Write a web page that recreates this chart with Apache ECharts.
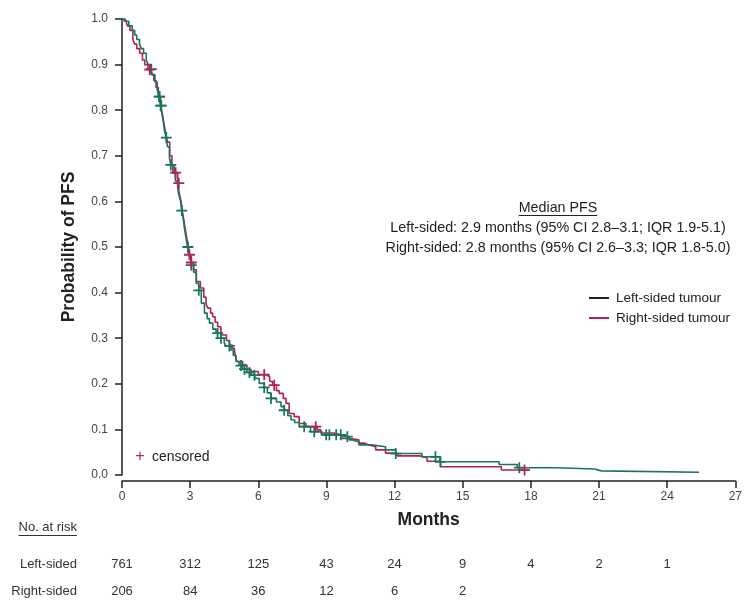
<!DOCTYPE html>
<html>
<head>
<meta charset="utf-8">
<script src="https://cdn.jsdelivr.net/npm/echarts@6/dist/echarts.min.js"></script>
<style>
html,body{margin:0;padding:0;background:#fff;}
#chart{width:745px;height:600px;}
</style>
</head>
<body>
<div id="chart"></div>
<script>
// ---- Data ----
const xTicks = [0, 3, 6, 9, 12, 15, 18, 21, 24, 27];
const yTicks = [0, 0.1, 0.2, 0.3, 0.4, 0.5, 0.6, 0.7, 0.8, 0.9, 1.0];

// Kaplan-Meier step points [month, survival]: Left-sided tumour
const leftCurve = [
  [0,1.0],[0.15,0.995],[0.3,0.985],[0.45,0.975],[0.56,0.965],[0.65,0.955],[0.77,0.945],
  [0.85,0.935],[0.95,0.925],[1.07,0.91],[1.15,0.9],[1.25,0.89],[1.33,0.878],[1.45,0.862],
  [1.55,0.845],[1.62,0.83],[1.7,0.81],[1.75,0.795],[1.82,0.775],[1.87,0.755],[1.95,0.74],
  [2.0,0.72],[2.09,0.695],[2.15,0.68],[2.24,0.662],[2.35,0.645],[2.45,0.63],[2.5,0.615],
  [2.58,0.6],[2.63,0.58],[2.7,0.56],[2.75,0.54],[2.82,0.52],[2.88,0.5],[2.95,0.48],
  [3.05,0.46],[3.15,0.445],[3.27,0.42],[3.38,0.405],[3.49,0.377],[3.63,0.355],[3.75,0.343],
  [3.85,0.333],[4.0,0.32],[4.14,0.311],[4.36,0.3],[4.5,0.29],[4.58,0.283],[4.8,0.274],
  [4.9,0.262],[5.02,0.249],[5.15,0.24],[5.31,0.232],[5.5,0.225],[5.68,0.219],[5.85,0.212],
  [6.04,0.201],[6.26,0.192],[6.4,0.18],[6.56,0.168],[6.8,0.16],[7.0,0.15],[7.14,0.142],
  [7.3,0.13],[7.44,0.121],[7.6,0.115],[7.8,0.106],[8.3,0.095],[8.8,0.088],[9.7,0.084],
  [10.0,0.077],[10.15,0.073],[10.43,0.066],[11.0,0.062],[11.6,0.055],[12.05,0.047],
  [13.2,0.04],[14.0,0.029],[16.6,0.023],[17.4,0.016],[19.1,0.013],[20.8,0.009],
  [21.1,0.006],[25.4,0.006]
];

// Kaplan-Meier step points [month, survival]: Right-sided tumour
const rightCurve = [
  [0,1.0],[0.1,0.995],[0.2,0.99],[0.26,0.984],[0.35,0.975],[0.48,0.955],[0.55,0.945],
  [0.65,0.935],[0.78,0.925],[0.9,0.91],[1.0,0.9],[1.14,0.889],[1.3,0.878],[1.4,0.865],
  [1.5,0.85],[1.6,0.83],[1.7,0.81],[1.78,0.79],[1.85,0.77],[1.92,0.75],[2.0,0.73],
  [2.1,0.7],[2.2,0.68],[2.3,0.663],[2.45,0.64],[2.52,0.618],[2.6,0.6],[2.65,0.58],
  [2.72,0.56],[2.78,0.54],[2.85,0.52],[2.92,0.5],[2.97,0.483],[3.05,0.466],[3.15,0.45],
  [3.27,0.424],[3.45,0.41],[3.6,0.39],[3.7,0.375],[3.78,0.366],[3.9,0.355],[3.99,0.347],
  [4.1,0.335],[4.21,0.325],[4.35,0.315],[4.43,0.307],[4.6,0.295],[4.73,0.285],[4.85,0.278],
  [4.95,0.271],[5.0,0.26],[5.05,0.249],[5.31,0.241],[5.5,0.232],[5.68,0.227],[6.0,0.22],
  [6.34,0.216],[6.5,0.205],[6.63,0.197],[6.8,0.185],[6.92,0.179],[7.1,0.168],[7.22,0.157],
  [7.36,0.135],[7.58,0.128],[7.8,0.113],[8.1,0.106],[8.6,0.099],[8.75,0.092],[9.34,0.088],
  [9.63,0.08],[10.07,0.077],[10.43,0.07],[10.65,0.066],[10.87,0.062],[11.17,0.055],
  [11.6,0.048],[12.1,0.042],[13.1,0.038],[13.43,0.03],[14.02,0.018],[16.7,0.011],[17.9,0.011]
];

// Censoring times (months)
const leftCensored = [1.29,1.63,1.66,1.7,1.73,1.95,2.15,2.63,2.9,3.05,3.38,4.21,4.36,4.73,
  5.24,5.39,5.61,5.83,6.26,6.56,7.14,8.02,8.46,8.99,9.13,9.43,9.63,9.92,12.05,13.8,14.02,17.49];
const rightCensored = [1.22,2.36,2.5,2.97,3.05,6.26,6.7,8.53,17.72];

// Numbers at risk at 0,3,6,... months
const riskTimes = [0, 3, 6, 9, 12, 15, 18, 21, 24];
const riskLeft = [761, 312, 125, 43, 24, 9, 4, 2, 1];
const riskRight = [206, 84, 36, 12, 6, 2];

const seriesNames = ['Left-sided tumour', 'Right-sided tumour'];
const medianTitle = 'Median PFS';
const medianLines = [
  'Left-sided: 2.9 months (95% CI 2.8\u20133.1; IQR 1.9-5.1)',
  'Right-sided: 2.8 months (95% CI 2.6\u20133.3; IQR 1.8-5.0)'
];

// ---- Styling ----
const GREEN = '#18765c';
const RED = '#b3234e';
const AXIS = '#222';
const FONT = '"Liberation Sans", Arial, sans-serif';

function survAt(curve, t) {
  let s = curve[0][1];
  for (const p of curve) { if (p[0] <= t) s = p[1]; else break; }
  return s;
}
const PLUS = 'path://M42,0H58V42H100V58H58V100H42V58H0V42H42Z';

const chart = echarts.init(document.getElementById('chart'), null, {renderer: 'canvas'});

const option = {
  backgroundColor: '#fff',
  animation: false,
  grid: {left: 122, right: 8, top: 19, bottom: 125, containLabel: false},
  legend: {
    orient: 'vertical', left: 584, top: 286, itemWidth: 20, itemHeight: 2, itemGap: 6,
    icon: 'rect', selectedMode: false,
    textStyle: {fontFamily: FONT, fontSize: 13.5, color: '#222', padding: [0,0,0,2]},
    data: [
      {name: seriesNames[0], itemStyle: {color: '#222'}},
      {name: seriesNames[1], itemStyle: {color: RED}}
    ]
  },
  xAxis: {
    type: 'value', min: 0, max: 27, interval: 3, offset: 6,
    name: 'Months', nameLocation: 'middle', nameGap: 30,
    nameTextStyle: {fontFamily: FONT, fontSize: 17.5, fontWeight: 'bold', color: '#222'},
    axisLine: {show: true, onZero: false, lineStyle: {color: AXIS, width: 1.5}},
    axisTick: {show: true, length: 7, lineStyle: {color: AXIS, width: 1.5}},
    axisLabel: {margin: 10, fontFamily: FONT, fontSize: 12, color: '#444'},
    splitLine: {show: false}
  },
  yAxis: {
    type: 'value', min: 0, max: 1, interval: 0.1, offset: 2,
    name: 'Probability of PFS', nameLocation: 'middle', nameGap: 42, nameRotate: 90,
    nameTextStyle: {fontFamily: FONT, fontSize: 17.5, fontWeight: 'bold', color: '#222'},
    axisLine: {show: true, lineStyle: {color: AXIS, width: 1.5}},
    axisTick: {show: true, length: 7, lineStyle: {color: AXIS, width: 1.5}},
    axisLabel: {margin: 12, fontFamily: FONT, fontSize: 12, color: '#444',
      formatter: v => v.toFixed(1)},
    splitLine: {show: false}
  },
  series: [
    {
      name: seriesNames[0], type: 'line', step: 'end', data: leftCurve,
      symbol: 'none', showSymbol: false, color: GREEN,
      lineStyle: {color: GREEN, width: 1.6}, z: 3
    },
    {
      name: seriesNames[1], type: 'line', step: 'end', data: rightCurve,
      symbol: 'none', showSymbol: false, color: RED,
      lineStyle: {color: RED, width: 1.6}, z: 2
    },
    {
      name: 'left-censored', type: 'scatter', symbol: PLUS, symbolSize: 11,
      itemStyle: {color: GREEN, opacity: 1}, z: 4,
      data: leftCensored.map(t => [t, survAt(leftCurve, t)])
    },
    {
      name: 'right-censored', type: 'scatter', symbol: PLUS, symbolSize: 11,
      itemStyle: {color: RED, opacity: 1}, z: 4,
      data: rightCensored.map(t => [t, survAt(rightCurve, t)])
    }
  ]
};
chart.setOption(option);

// ---- Annotations, censored key, numbers at risk ----
const ctx = document.createElement('canvas').getContext('2d');
function textWidth(str, size, weight) {
  ctx.font = (weight || 'normal') + ' ' + size + 'px ' + FONT;
  return ctx.measureText(str).width;
}

const g = [];
const cx = 558;
const ANN = 14.3;
g.push({type: 'text', x: cx, y: 208, style: {text: medianTitle, font: ANN + 'px ' + FONT, fill: '#222', align: 'center', verticalAlign: 'middle'}});
const tw = textWidth(medianTitle, ANN);
g.push({type: 'line', shape: {x1: cx - tw/2, y1: 215.5, x2: cx + tw/2, y2: 215.5}, style: {stroke: '#222', lineWidth: 1}});
medianLines.forEach((s, i) => {
  g.push({type: 'text', x: cx, y: 228 + i * 20, style: {text: s, font: ANN + 'px ' + FONT, fill: '#222', align: 'center', verticalAlign: 'middle'}});
});

// censored key
g.push({type: 'text', x: 140, y: 457, style: {text: '+', font: '16px ' + FONT, fill: RED, align: 'center', verticalAlign: 'middle'}});
g.push({type: 'text', x: 152, y: 457, style: {text: 'censored', font: '14px ' + FONT, fill: '#222', align: 'left', verticalAlign: 'middle'}});

// numbers at risk
const RF = 13;
const nar = 'No. at risk';
g.push({type: 'text', x: 77, y: 527, style: {text: nar, font: RF + 'px ' + FONT, fill: '#333', align: 'right', verticalAlign: 'middle'}});
const nw = textWidth(nar, RF);
g.push({type: 'line', shape: {x1: 77 - nw, y1: 535.5, x2: 77, y2: 535.5}, style: {stroke: '#333', lineWidth: 1}});
g.push({type: 'text', x: 77, y: 564, style: {text: 'Left-sided', font: RF + 'px ' + FONT, fill: '#333', align: 'right', verticalAlign: 'middle'}});
g.push({type: 'text', x: 77, y: 591, style: {text: 'Right-sided', font: RF + 'px ' + FONT, fill: '#333', align: 'right', verticalAlign: 'middle'}});
riskLeft.forEach((n, i) => {
  const px = chart.convertToPixel({xAxisIndex: 0}, riskTimes[i]);
  g.push({type: 'text', x: px, y: 564, style: {text: String(n), font: RF + 'px ' + FONT, fill: '#333', align: 'center', verticalAlign: 'middle'}});
});
riskRight.forEach((n, i) => {
  const px = chart.convertToPixel({xAxisIndex: 0}, riskTimes[i]);
  g.push({type: 'text', x: px, y: 591, style: {text: String(n), font: RF + 'px ' + FONT, fill: '#333', align: 'center', verticalAlign: 'middle'}});
});

chart.setOption({graphic: g});
</script>
</body>
</html>
